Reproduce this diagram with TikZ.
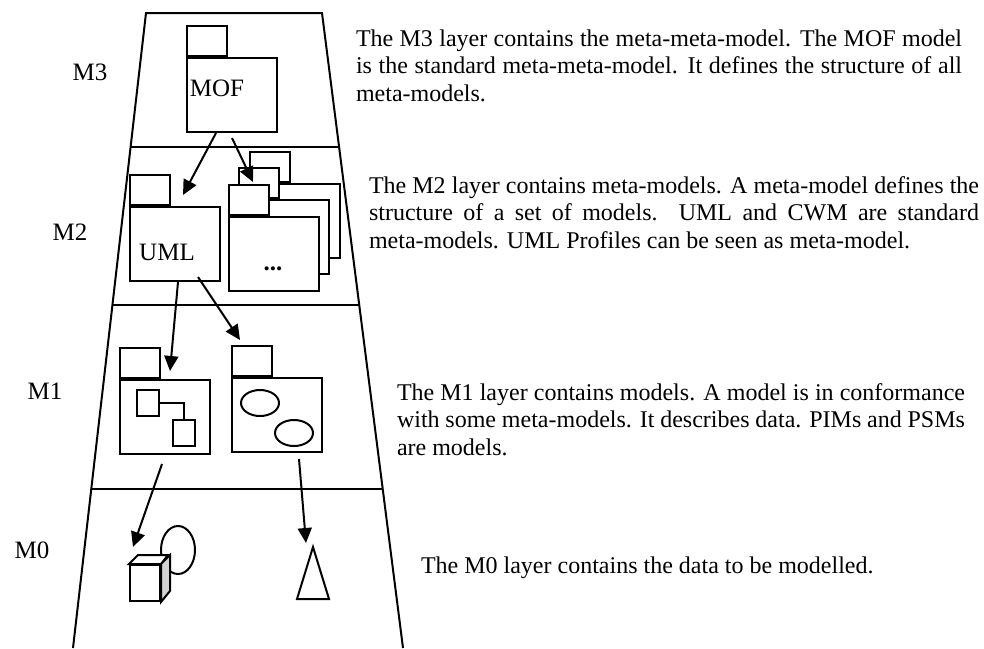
\documentclass[tikz,border=0pt]{standalone}
\usepackage{fontspec}
\setmainfont{Liberation Serif}
\usetikzlibrary{arrows.meta,positioning,shapes.geometric,calc}
\hyphenpenalty=10000
\exhyphenpenalty=10000

\begin{document}
\begin{tikzpicture}[
  x=1pt, y=-1pt, line width=2pt,
  pkg/.style={rectangle, draw, fill=white, minimum width=90pt, minimum height=74pt, inner sep=0pt},
  pkgtab/.style={rectangle, draw, fill=white, minimum width=40pt, minimum height=30pt, inner sep=0pt, anchor=south west},
  mini/.style={rectangle, draw, minimum width=22pt, minimum height=26pt, inner sep=0pt},
  elip/.style={ellipse, draw, inner sep=0pt},
  etiq/.style={font=\fontsize{25}{30}\selectfont, inner sep=0pt},
  nota/.style={font=\fontsize{24}{27.6}\selectfont, inner sep=0pt, anchor=base west, align=justify},
  flecha/.style={-{Triangle[length=15pt,width=14pt]}, line width=2pt}
]
\useasboundingbox (0,0) rectangle (984,648);

% the four layers
\coordinate (tl) at (146,13);
\coordinate (tr) at (322,13);
\coordinate (bl) at (73,648);
\coordinate (br) at (403,648);
\draw (bl) -- (tl) -- (tr) -- (br);
\foreach \t in {0.211,0.46,0.75}
  \draw ($(tl)!\t!(bl)$) -- ($(tr)!\t!(br)$);

\node[etiq] (m3) at (90,72) {M3};
\node[etiq] (m2) at (70,232) {M2};
\node[etiq] (m1) at (45,391) {M1};
\node[etiq] (m0) at (32,550) {M0};

% M3
\node[pkg] (mof) at (232,95) {};
\node[pkgtab] (moftab) at (mof.north west) {};
\node[etiq] (moftxt) at (217,88) {MOF};

% M2
\node[pkg] (uml) at (175,244) {};
\node[pkgtab] (umltab) at (uml.north west) {};
\node[etiq] (umltxt) at (167,252) {UML};

\foreach \n/\dx/\dy in {c/21/-33, b/10/-17, a/0/0} {
  \node[pkg] (st\n) at (274+\dx,254+\dy) {};
  \node[pkgtab] (tab\n) at (st\n.north west) {};
}
\node[etiq, anchor=base] (puntos) at (273,270) {\textbf{...}};

% M1
\node[pkg] (mod1) at (165,417) {};
\node[pkgtab] (mod1tab) at (mod1.north west) {};
\node[mini] (sq1) at (148,403) {};
\node[mini] (sq2) at (184,433) {};
\draw (sq1.east) -| (sq2.north);

\node[pkg] (mod2) at (277,415) {};
\node[pkgtab] (mod2tab) at (mod2.north west) {};
\node[elip, minimum width=38pt, minimum height=26pt] (el1) at (260,403) {};
\node[elip, minimum width=38pt, minimum height=26pt] (el2) at (294,433) {};

% M0
\node[elip, minimum width=34pt, minimum height=48pt] (ovalo) at (178,550) {};
\node[rectangle, draw, fill=white, minimum width=30pt, minimum height=36pt, inner sep=0pt] (cubo) at (145,583) {};
\draw[fill=white] (cubo.north west) -- ++(9,-9) -- ++(30,0) -- (cubo.north east) -- cycle;
\draw[fill=gray!35] (cubo.north east) -- ++(9,-9) -- ++(0,36) -- (cubo.south east) -- cycle;
\coordinate (tri) at (313,547);
\draw (tri) -- (329,599) -- (297,599) -- cycle;

% conformance
\draw[flecha] ([xshift=-16pt]mof.south) -- ([xshift=8pt,yshift=11pt]uml.north);
\draw[flecha] ([yshift=-5pt]mof.south) -- ([xshift=4pt,yshift=2pt]taba.north);
\draw[flecha] ([xshift=3pt]uml.south) -- ([xshift=5pt,yshift=8pt]mod1.north);
\draw[flecha] ([xshift=23pt,yshift=5pt]uml.south) -- ([xshift=-12pt,yshift=5pt]mod2tab.north);
\draw[flecha] ([xshift=-3pt,yshift=-9pt]mod1.south) -- ([xshift=-12pt,yshift=17pt]cubo.north);
\draw[flecha] ([xshift=22pt,yshift=-6pt]mod2.south) -- ([xshift=-7pt,yshift=4pt]tri);

% descriptions
\node[nota, text width=606pt] (n3) at (355,46) {The M3 layer contains the meta-meta-model. The MOF model\linebreak is the standard meta-meta-model. It defines the structure of all\linebreak meta-models.};
\node[nota, text width=610pt] (n2) at (368,193) {The M2 layer contains meta-models. A meta-model defines the\linebreak structure of a set of models. UML and CWM are standard\linebreak meta-models. UML Profiles can be seen as meta-model.};
\node[nota, text width=568pt] (n1) at (396,400) {The M1 layer contains models. A model is in conformance\linebreak with some meta-models. It describes data. PIMs and PSMs\linebreak are models.};
\node[nota, text width=460pt] (n0) at (420,573) {The M0 layer contains the data to be modelled.};
\end{tikzpicture}
\end{document}
